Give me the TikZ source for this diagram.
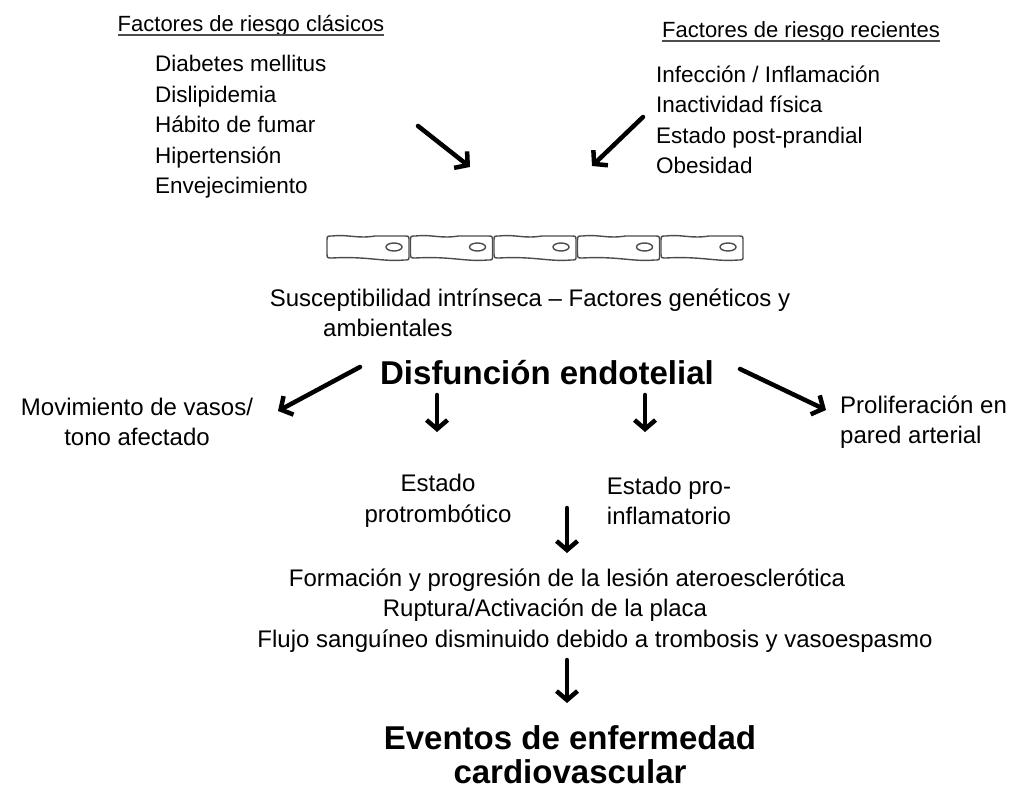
\documentclass[tikz,border=0pt]{standalone}
\usepackage{fontspec}
\setmainfont{Liberation Sans}
\usetikzlibrary{arrows.meta,positioning}
\tikzset{
  flecha/.style={-{Straight Barb[length=9pt,width=21pt]}, line width=4.5pt, line cap=round},
  texto/.style={font=\fontsize{24}{30.5}\selectfont, inner sep=0pt},
  lista/.style={font=\fontsize{22.5}{30.5}\selectfont, inner sep=0pt, anchor=west, align=left},
  titulo/.style={font=\fontsize{22}{26}\selectfont, inner sep=0pt},
  grande/.style={font=\fontsize{33}{34}\selectfont\bfseries, inner sep=0pt},
  celula/.style={draw=black!70, line width=1.4pt},
}

\begin{document}
\begin{tikzpicture}[x=1pt,y=-1pt]
    \useasboundingbox (0,0) rectangle (1024,791);
    % factores de riesgo
    \node[titulo, anchor=base] (clasicos) at (251,32) {Factores de riesgo clásicos};
    \node[titulo, anchor=base] (recientes) at (801,38) {Factores de riesgo recientes};
    \draw[black!70, line width=1.2pt] ([yshift=-3pt]clasicos.base west) -- ([yshift=-3pt]clasicos.base east);
    \draw[black!70, line width=1.2pt] ([yshift=-3pt]recientes.base west) -- ([yshift=-3pt]recientes.base east);
    \node[lista] (listaC) at (155,127)
         {Diabetes mellitus\\Dislipidemia\\Hábito de fumar\\Hipertensión\\Envejecimiento};
    \node[lista] (listaR) at (656,120)
         {Infección / Inflamación\\Inactividad física\\Estado post-prandial\\Obesidad};
    \coordinate (c1) at (418,126); \coordinate (c2) at (470,167);
    \coordinate (r1) at (643,117); \coordinate (r2) at (592,166);
    \draw[flecha] (c1) -- (c2);
    \draw[flecha] (r1) -- (r2);
    % endotelio
    \foreach \i in {0,...,4}{
      \pgfmathsetmacro{\xa}{327+83.5*\i}
      \draw[celula] (\xa+5,236) .. controls (\xa+20,234) and (\xa+30,239) .. (\xa+48,236)
                    -- (\xa+77,236) .. controls (\xa+82,236) .. (\xa+82,241)
                    -- (\xa+82,256) .. controls (\xa+82,260) .. (\xa+77,260)
                    .. controls (\xa+55,262) and (\xa+40,256) .. (\xa+5,258)
                    .. controls (\xa,258) .. (\xa,253) -- (\xa,241)
                    .. controls (\xa,236) .. (\xa+5,236) -- cycle;
      \draw[celula] (\xa+67,247) ellipse (8 and 4);
    }
    \node[texto] (suscep) at (530,300) {Susceptibilidad intrínseca – Factores genéticos y};
    \node[texto, anchor=west] (ambient) at (323,328) {ambientales};
    % disfuncion
    \node[grande] (disf) at (547,373) {Disfunción endotelial};
    \node[texto, align=center] (movim) at (137,422) {Movimiento de vasos/\\tono afectado};
    \node[texto, anchor=west, align=left] (prolif) at (840,422) {Proliferación en\\pared arterial};
    \node[texto, align=center] (protromb) at (438,501) {Estado\\protrombótico};
    \node[texto, align=center] (proinfl) at (669,501) {Estado pro-\\inflamatorio};
    \coordinate (d1) at (360,367); \coordinate (d2) at (278,411);
    \coordinate (d3) at (740,369); \coordinate (d4) at (826,410);
    \coordinate (d5) at (437,395); \coordinate (d6) at (437,432);
    \coordinate (d7) at (645,395); \coordinate (d8) at (645,432);
    \draw[flecha] (d1) -- (d2);
    \draw[flecha] (d3) -- (d4);
    \draw[flecha] (d5) -- (d6);
    \draw[flecha] (d7) -- (d8);
    % lesion y eventos
    \coordinate (e1) at (567,508); \coordinate (e2) at (567,553);
    \draw[flecha] (e1) -- (e2);
    \node[texto] (lesion) at (567,580) {Formación y progresión de la lesión ateroesclerótica};
    \node[texto] (ruptura) at (545,610) {Ruptura/Activación de la placa};
    \node[texto] (flujo) at (595,641) {Flujo sanguíneo disminuido debido a trombosis y vasoespasmo};
    \coordinate (e3) at (567,660); \coordinate (e4) at (567,703);
    \draw[flecha] (e3) -- (e4);
    \node[grande, align=center] (eventos) at (570,755) {Eventos de enfermedad\\cardiovascular};
\end{tikzpicture}
\end{document}
